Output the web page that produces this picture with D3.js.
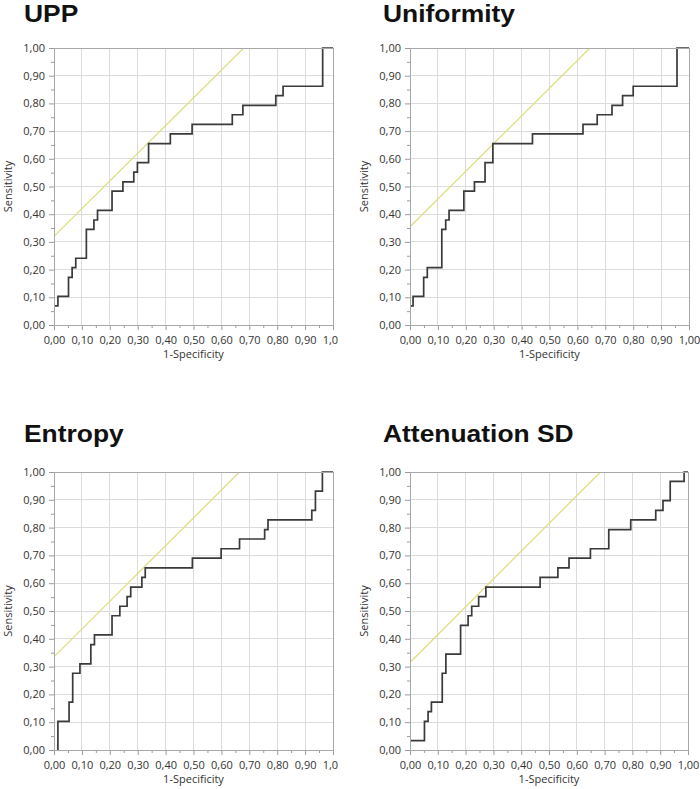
<!DOCTYPE html>
<html><head><meta charset="utf-8">
<script src="https://cdn.jsdelivr.net/npm/d3@7"></script>
<style>body{margin:0;background:#fff} svg{display:block}</style>
</head><body><svg id="c" width="700" height="789"></svg>
<script>
// ---------------- data ----------------
const titles = ["UPP", "Uniformity", "Entropy", "Attenuation SD"];
const xTitle = "1-Specificity";
const yTitle = "Sensitivity";
const tickValues = [0, 0.1, 0.2, 0.3, 0.4, 0.5, 0.6, 0.7, 0.8, 0.9, 1.0];
const tickLabels = ["0,00","0,10","0,20","0,30","0,40","0,50","0,60","0,70","0,80","0,90","1,00"];
const minorTickValues = [0.05, 0.15, 0.25, 0.35, 0.45, 0.55, 0.65, 0.75, 0.85, 0.95];

// ROC step vertices: (1-specificity where sensitivity rises, new sensitivity)
const uppFpr = [0, 0.014, 0.052, 0.065, 0.078, 0.116, 0.143, 0.156, 0.208, 0.247, 0.286, 0.299, 0.339, 0.417, 0.495, 0.639, 0.677, 0.795, 0.821, 0.963, 1.0];
const uppTpr = [0.069, 0.103, 0.172, 0.207, 0.241, 0.345, 0.379, 0.414, 0.483, 0.517, 0.552, 0.586, 0.655, 0.690, 0.724, 0.759, 0.793, 0.828, 0.862, 1.0, 1.0];

const uniformityFpr = [0, 0.011, 0.049, 0.062, 0.114, 0.128, 0.140, 0.193, 0.231, 0.269, 0.297, 0.439, 0.620, 0.671, 0.724, 0.762, 0.800, 0.957, 1.0];
const uniformityTpr = [0.069, 0.103, 0.172, 0.207, 0.345, 0.379, 0.414, 0.483, 0.517, 0.586, 0.655, 0.690, 0.724, 0.759, 0.793, 0.828, 0.862, 1.0, 1.0];

const entropyFpr = [0.014, 0.014, 0.054, 0.067, 0.093, 0.132, 0.145, 0.208, 0.236, 0.262, 0.275, 0.315, 0.327, 0.496, 0.599, 0.665, 0.755, 0.767, 0.924, 0.937, 0.962, 1.0];
const entropyTpr = [0, 0.103, 0.172, 0.276, 0.310, 0.379, 0.414, 0.483, 0.517, 0.552, 0.586, 0.621, 0.655, 0.690, 0.724, 0.759, 0.793, 0.828, 0.862, 0.931, 1.0, 1.0];

const attenuationFpr = [0, 0.052, 0.065, 0.077, 0.116, 0.129, 0.182, 0.209, 0.222, 0.247, 0.273, 0.468, 0.532, 0.572, 0.649, 0.715, 0.794, 0.884, 0.910, 0.936, 0.986, 1.0];
const attenuationTpr = [0.034, 0.103, 0.138, 0.172, 0.276, 0.345, 0.448, 0.483, 0.517, 0.552, 0.586, 0.621, 0.655, 0.690, 0.724, 0.793, 0.828, 0.862, 0.897, 0.966, 1.0, 1.0];

// intercept of the slope-1 (Youden) reference line
const referenceIntercepts = [0.32, 0.355, 0.335, 0.315];

const series = [
  [uppFpr, uppTpr],
  [uniformityFpr, uniformityTpr],
  [entropyFpr, entropyTpr],
  [attenuationFpr, attenuationTpr]
];

// ---------------- layout ----------------
const layout = [
  {x: 54,  y: 48,  w: 279, h: 277, tx: 24,  ty: 22,  clipLast: true},
  {x: 410, y: 48,  w: 279, h: 277, tx: 383, ty: 22,  clipLast: false},
  {x: 54,  y: 472, w: 279, h: 278, tx: 24,  ty: 442, clipLast: true},
  {x: 410, y: 472, w: 278, h: 278, tx: 383, ty: 442, clipLast: false}
];

const svg = d3.select("#c");
const FONT = "'Open Sans', 'Noto Sans', sans-serif";

layout.forEach((L, i) => {
  const x = d3.scaleLinear().domain([0, 1]).range([0, L.w]);
  const y = d3.scaleLinear().domain([0, 1]).range([L.h, 0]);

  // title
  const t = svg.append("text")
    .attr("x", L.tx).attr("y", L.ty)
    .style("font-family", "'Liberation Sans', Arial, sans-serif")
    .style("font-weight", "bold")
    .style("font-size", "24px")
    .attr("fill", "#111")
    .text(titles[i]);
  const tl = t.node().getComputedTextLength();
  t.attr("textLength", tl * 1.1).attr("lengthAdjust", "spacingAndGlyphs");

  const g = svg.append("g").attr("transform", `translate(${L.x},${L.y})`);

  const clipId = "clip" + i;
  g.append("clipPath").attr("id", clipId)
    .append("rect").attr("x", 0).attr("y", 0).attr("width", L.w).attr("height", L.h);

  // grid
  const grid = g.append("g");
  grid.selectAll("line.v").data(tickValues.slice(1, -1)).join("line")
    .attr("x1", d => x(d)).attr("x2", d => x(d))
    .attr("y1", 0).attr("y2", L.h)
    .attr("stroke", "#dcdcdc").attr("stroke-width", 1).attr("shape-rendering", "crispEdges");
  grid.selectAll("line.h").data(tickValues.slice(1, -1)).join("line")
    .attr("y1", d => y(d)).attr("y2", d => y(d))
    .attr("x1", 0).attr("x2", L.w)
    .attr("stroke", "#dcdcdc").attr("stroke-width", 1).attr("shape-rendering", "crispEdges");

  // reference line
  const b = referenceIntercepts[i];
  g.append("line")
    .attr("clip-path", `url(#${clipId})`)
    .attr("x1", x(0)).attr("y1", y(b))
    .attr("x2", x(1 - b)).attr("y2", y(1))
    .attr("stroke", "#dede82").attr("stroke-width", 1.3);

  // ROC step line
  const [fpr, tpr] = series[i];
  const pts = fpr.map((v, k) => [v, tpr[k]]);
  const line = d3.line().x(d => x(d[0])).y(d => y(d[1])).curve(d3.curveStepAfter);
  g.append("path").datum(pts)
    .attr("d", line)
    .attr("fill", "none")
    .attr("stroke", "#3a3a3a")
    .attr("stroke-width", 1.7);

  // axes
  const axisColor = "#9a9a9a";
  const xg = g.append("g").attr("transform", `translate(0,${L.h})`);
  if (L.clipLast) {
    const cid = "xclip" + i;
    g.append("clipPath").attr("id", cid)
      .append("rect").attr("x", -40).attr("y", 0).attr("width", L.w + 45).attr("height", 60);
    xg.attr("clip-path", `url(#${cid})`);
  }
  xg.call(d3.axisBottom(x).tickValues(tickValues)
      .tickFormat((d, k) => tickLabels[k]).tickSize(5).tickPadding(6));
  const xm = g.append("g").attr("transform", `translate(0,${L.h})`)
    .call(d3.axisBottom(x).tickValues(minorTickValues).tickFormat("").tickSize(3));

  const yg = g.append("g")
    .call(d3.axisLeft(y).tickValues(tickValues)
      .tickFormat((d, k) => tickLabels[k]).tickSize(5).tickPadding(4));
  const ym = g.append("g")
    .call(d3.axisLeft(y).tickValues(minorTickValues).tickFormat("").tickSize(3));

  [xg, xm, yg, ym].forEach(a => {
    a.select(".domain").remove();
    a.selectAll(".tick line").attr("stroke", axisColor);
    a.selectAll(".tick text")
      .style("font-family", FONT).style("font-size", "11px").attr("fill", "#333");
  });

  // frame
  g.append("rect").attr("x", 0).attr("y", 0).attr("width", L.w).attr("height", L.h)
    .attr("fill", "none").attr("stroke", "#a8a8a8").attr("stroke-width", 1)
    .attr("shape-rendering", "crispEdges");

  // axis titles
  g.append("text")
    .attr("x", L.w / 2).attr("y", L.h + 33)
    .attr("text-anchor", "middle")
    .style("font-family", FONT).style("font-size", "11px").attr("fill", "#333")
    .text(xTitle);
  g.append("text")
    .attr("transform", `translate(-42,${L.h / 2}) rotate(-90)`)
    .attr("text-anchor", "middle")
    .style("font-family", FONT).style("font-size", "11px").attr("fill", "#333")
    .text(yTitle);
});
</script>
</body></html>
